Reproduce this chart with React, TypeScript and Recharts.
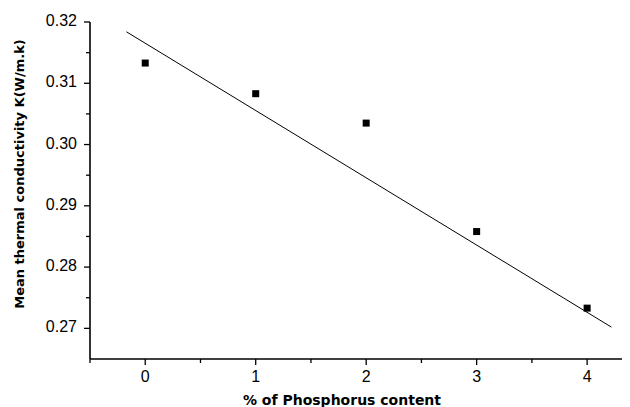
import React from 'react';
import { ComposedChart, Scatter, Line, XAxis, YAxis, Label } from 'recharts';

// measured points
const phosphorus = [0, 1, 2, 3, 4];
const conductivity = [0.3133, 0.3083, 0.3035, 0.2858, 0.2733];

// linear fit, drawn between its two end points
const fitX = [-0.17, 4.22];
const fitY = [0.3184, 0.2702];

const xTicks = [-0.5, 0, 0.5, 1, 1.5, 2, 2.5, 3, 3.5, 4];
const yTicks = [0.27, 0.275, 0.28, 0.285, 0.29, 0.295, 0.3, 0.305, 0.31, 0.315, 0.32];

const points = phosphorus.map((x, i) => ({ x, y: conductivity[i] }));
const fit = fitX.map((x, i) => ({ x, y: fitY[i] }));

const FONT = 'Liberation Sans, Arial, Helvetica, sans-serif';
const TITLE_FONT = 'DejaVu Sans, Verdana, sans-serif';

const XTick = (props: any) => {
  const { x, y, payload } = props;
  const major = Number.isInteger(payload.value);
  return (
    <g>
      <line x1={x} x2={x} y1={y} y2={y + (major ? 6 : 4)} stroke="#000" strokeWidth={1.3} />
      {major && (
        <text x={x} y={y + 23} textAnchor="middle" fontSize={16} fontFamily={FONT} fill="#000">
          {payload.value}
        </text>
      )}
    </g>
  );
};

const YTick = (props: any) => {
  const { x, y, payload } = props;
  const major = Math.round(payload.value * 1000) % 10 === 0;
  return (
    <g>
      <line x1={x} x2={x - (major ? 6 : 4)} y1={y} y2={y} stroke="#000" strokeWidth={1.3} />
      {major && (
        <text x={x - 13} y={y + 4} textAnchor="end" fontSize={16} fontFamily={FONT} fill="#000">
          {payload.value.toFixed(2)}
        </text>
      )}
    </g>
  );
};

const Square = (props: any) => (
  <rect x={props.cx - 3.5} y={props.cy - 3.5} width={7} height={7} fill="#000" />
);

export default function App() {
  return (
    <ComposedChart
      width={622}
      height={399}
      margin={{ top: 14, right: 2, bottom: 0, left: 0 }}
    >
      <XAxis
        type="number"
        dataKey="x"
        domain={[-0.5, 4.37]}
        ticks={xTicks}
        interval={0}
        tickSize={0}
        tickMargin={0}
        tickLine={false}
        tick={XTick}
        height={48}
        axisLine={{ stroke: '#000', strokeWidth: 1.6 }}
      >
        <Label
          content={() => (
            <text x={334} y={397} textAnchor="middle" fontSize={14} fontWeight="bold" fontFamily={TITLE_FONT} fill="#000">
              % of Phosphorus content
            </text>
          )}
        />
      </XAxis>
      <YAxis
        type="number"
        domain={[0.265, 0.32]}
        ticks={yTicks}
        interval={0}
        tickSize={0}
        tickMargin={0}
        tickLine={false}
        tick={YTick}
        width={82}
        axisLine={{ stroke: '#000', strokeWidth: 1.6 }}
      >
        <Label
          content={() => (
            <text
              x={16}
              y={166}
              transform="rotate(-90 16 166)"
              textAnchor="middle"
              fontSize={13}
              fontWeight="bold"
              fontFamily={TITLE_FONT}
              fill="#000"
            >
              Mean thermal conductivity K(W/m.k)
            </text>
          )}
        />
      </YAxis>
      <Line
        data={fit}
        dataKey="y"
        stroke="#000"
        strokeWidth={1}
        dot={false}
        isAnimationActive={false}
      />
      <Scatter data={points} dataKey="y" fill="#000" shape={Square} isAnimationActive={false} />
    </ComposedChart>
  );
}
